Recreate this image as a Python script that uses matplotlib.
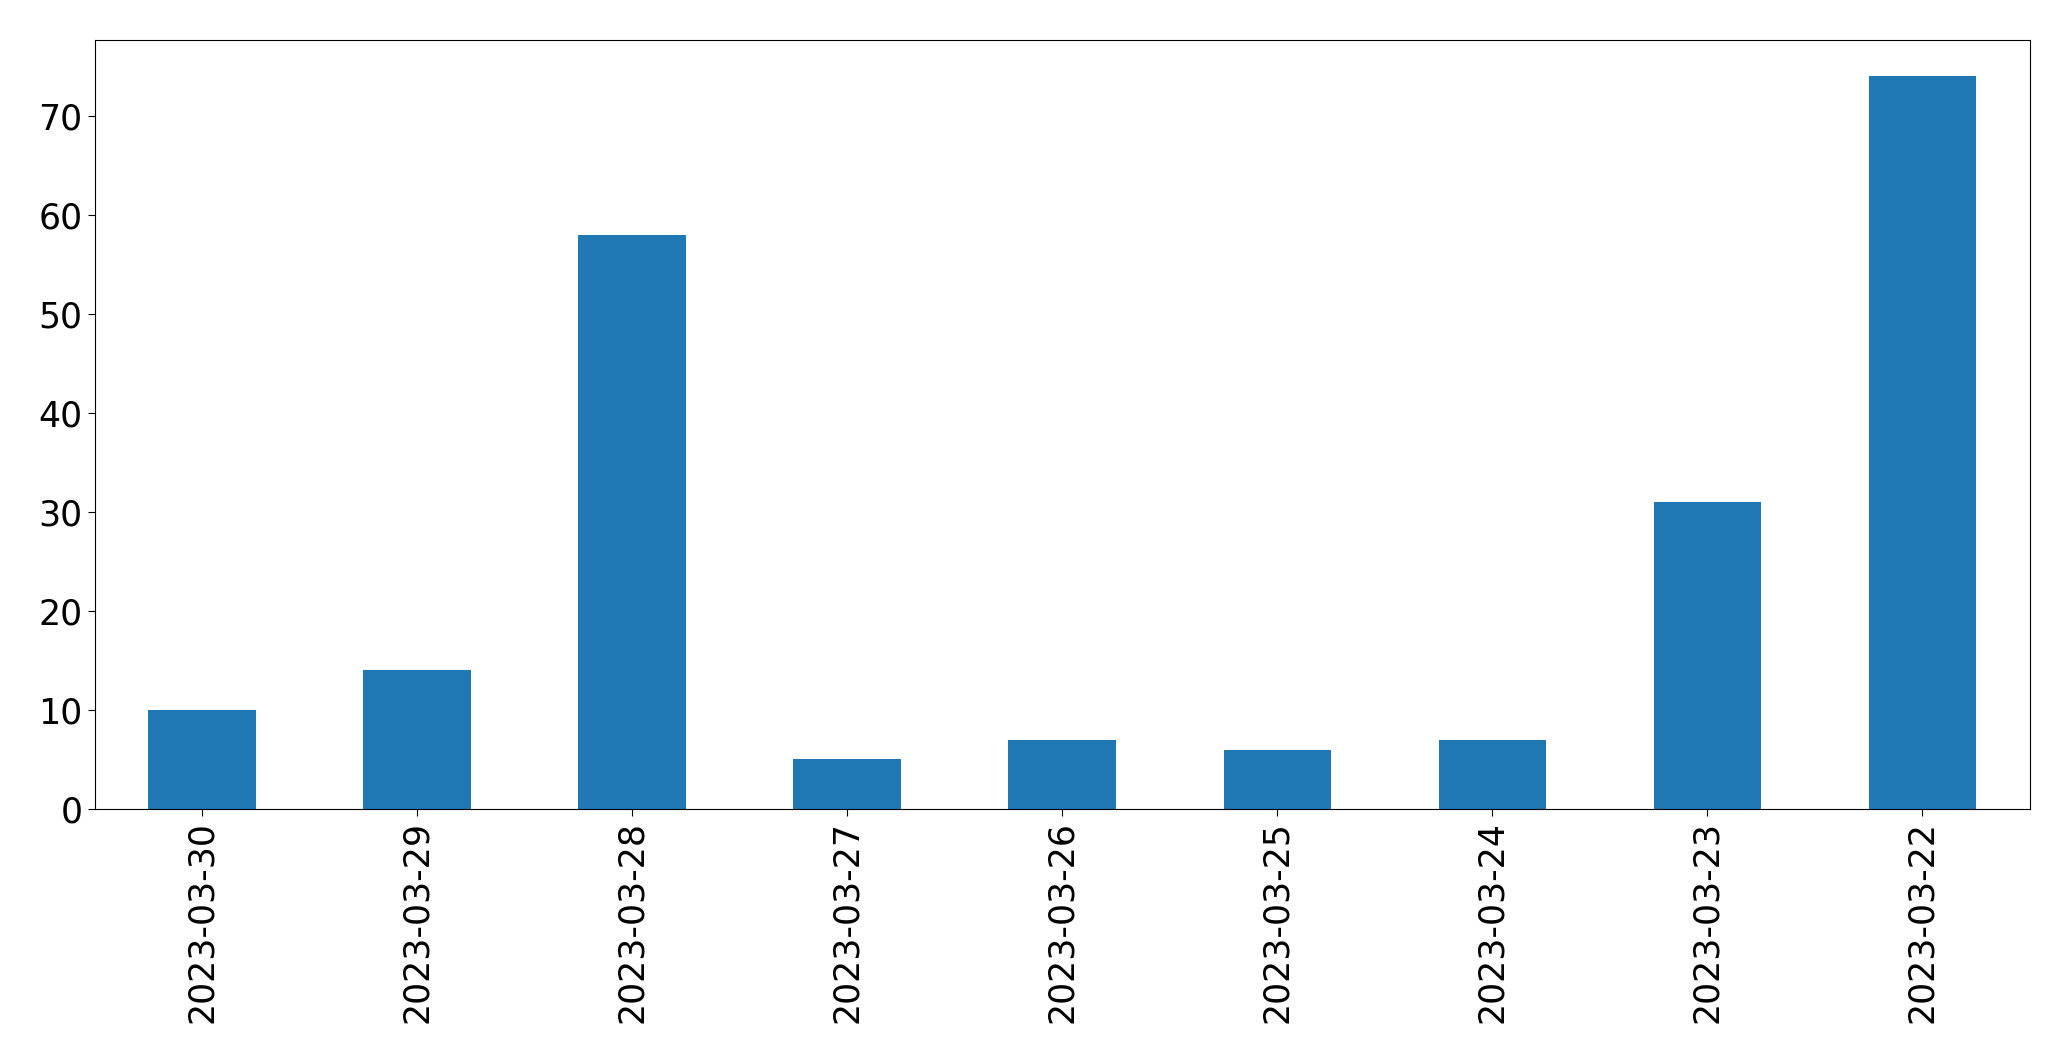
#/usr/bin/env python3

import pandas as pd
import numpy as np
import matplotlib
matplotlib.use('Agg')
import matplotlib.pyplot as plt

fechas = ['2023-03-30', '2023-03-29', '2023-03-28', '2023-03-27', '2023-03-26',
          '2023-03-25', '2023-03-24', '2023-03-23', '2023-03-22']
conteos = [10, 14, 58, 5, 7, 6, 7, 31, 74]


def Graphic():
    serie = pd.Series(conteos, index=fechas)
    fig, ax = plt.subplots(figsize=(20.71, 10.61), dpi=100)
    fig.subplots_adjust(left=94.5/2071, right=2030/2071, top=1-39.5/1061, bottom=1-809/1061)
    serie.plot(kind='bar', ax=ax, color='#1f77b4')
    # etiquetas grandes como en el original
    ax.tick_params(axis='both', labelsize=25, length=5)
    fig.savefig('out.png', dpi=100)


if __name__ == "__main__":
    Graphic()
